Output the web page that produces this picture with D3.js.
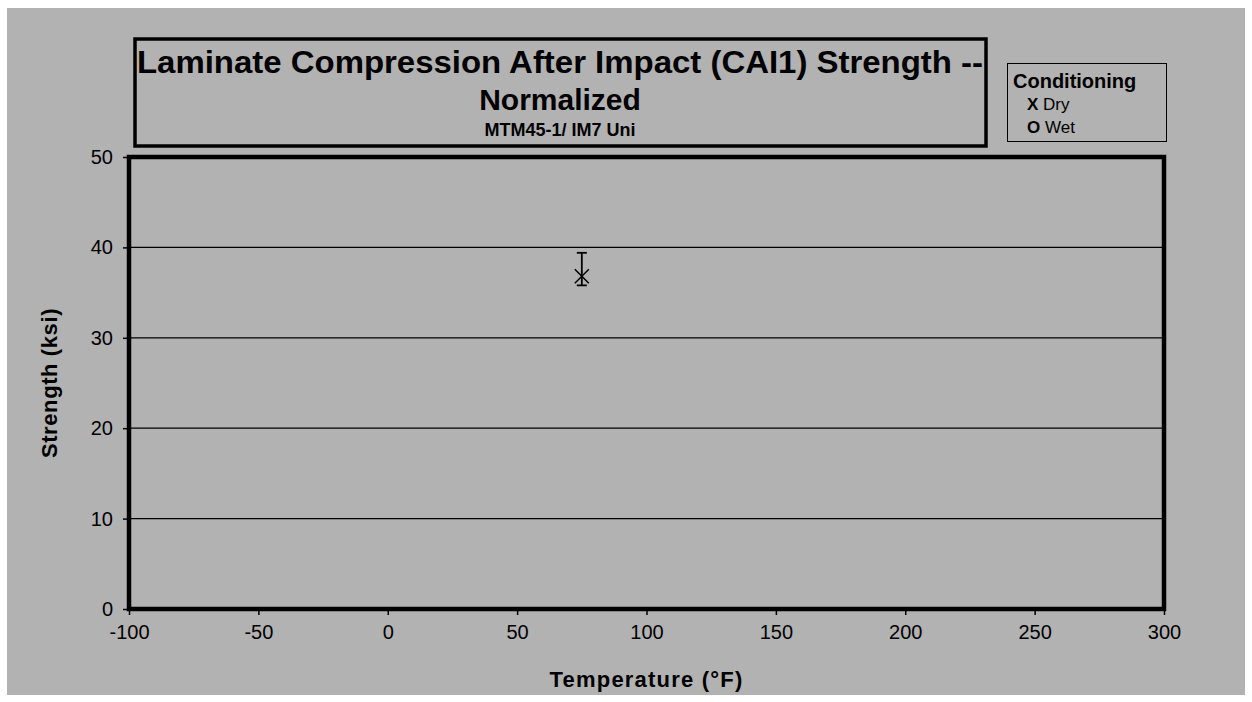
<!DOCTYPE html>
<html>
<head>
<meta charset="utf-8">
<script src="https://cdn.jsdelivr.net/npm/d3@7"></script>
<style>
  html, body { margin: 0; padding: 0; background: #ffffff; }
  svg { display: block; }
  text { font-family: "Liberation Sans", Arial, sans-serif; fill: #000; }
</style>
</head>
<body>
<svg id="chart" width="1252" height="702"></svg>
<script>
// ---- Data ----
const titleLines = ["Laminate Compression After Impact (CAI1) Strength --", "Normalized"];
const subtitle = "MTM45-1/ IM7 Uni";
const xLabel = "Temperature (°F)";
const yLabel = "Strength (ksi)";
const xTicks = [-100, -50, 0, 50, 100, 150, 200, 250, 300];
const yTicks = [0, 10, 20, 30, 40, 50];
const legendTitle = "Conditioning";
const legendSymbols = ["X", "O"];
const legendNames = ["Dry", "Wet"];
// Dry series: temperature, mean, min, max
const dryTemp = [75];
const dryMean = [36.8];
const dryMin = [35.8];
const dryMax = [39.4];

// ---- Layout ----
const svg = d3.select("#chart");
const plot = { left: 129, right: 1164, top: 157, bottom: 609 };

svg.append("rect").attr("x", 7).attr("y", 8).attr("width", 1238).attr("height", 687)
  .attr("fill", "#b2b2b2");

const x = d3.scaleLinear().domain([-100, 300]).range([plot.left, plot.right]);
const y = d3.scaleLinear().domain([0, 50]).range([plot.bottom, plot.top]);

// gridlines
svg.append("g").selectAll("line").data(yTicks.filter(d => d > 0 && d < 50)).join("line")
  .attr("x1", plot.left).attr("x2", plot.right)
  .attr("y1", d => y(d)).attr("y2", d => y(d))
  .attr("stroke", "#000").attr("stroke-width", 1.2);

// axes
const fmt = d => String(d);
const yAxis = d3.axisLeft(y).tickValues(yTicks).tickFormat(fmt).tickSize(6).tickPadding(10);
const gy = svg.append("g").attr("transform", `translate(${plot.left},0)`).call(yAxis);
gy.select(".domain").remove();
gy.selectAll("line").attr("stroke", "#000").attr("stroke-width", 1.5);
gy.selectAll("text").attr("font-size", 20).attr("font-family", "Liberation Sans, Arial, sans-serif").attr("fill", "#000");

const xAxis = d3.axisBottom(x).tickValues(xTicks).tickFormat(fmt).tickSize(6).tickPadding(10);
const gx = svg.append("g").attr("transform", `translate(0,${plot.bottom})`).call(xAxis);
gx.select(".domain").remove();
gx.selectAll("line").attr("stroke", "#000").attr("stroke-width", 1.5);
gx.selectAll("text").attr("font-size", 20).attr("font-family", "Liberation Sans, Arial, sans-serif").attr("fill", "#000");

// plot border
svg.append("rect").attr("x", plot.left).attr("y", plot.top)
  .attr("width", plot.right - plot.left).attr("height", plot.bottom - plot.top)
  .attr("fill", "none").attr("stroke", "#000").attr("stroke-width", 4.5);

// error bars + markers
const eb = svg.append("g");
dryTemp.forEach((t, i) => {
  const cx = x(t);
  eb.append("line").attr("x1", cx).attr("x2", cx).attr("y1", y(dryMax[i])).attr("y2", y(dryMin[i]))
    .attr("stroke", "#000").attr("stroke-width", 1.8);
  [dryMax[i], dryMin[i]].forEach(v => {
    eb.append("line").attr("x1", cx - 5).attr("x2", cx + 5).attr("y1", y(v)).attr("y2", y(v))
      .attr("stroke", "#000").attr("stroke-width", 1.8);
  });
  const s = 7;
  const cy = y(dryMean[i]);
  eb.append("path").attr("d", `M${cx - s},${cy - s}L${cx + s},${cy + s}M${cx - s},${cy + s}L${cx + s},${cy - s}`)
    .attr("stroke", "#000").attr("stroke-width", 1.5).attr("fill", "none");
});

// axis titles
svg.append("text").attr("x", (plot.left + plot.right) / 2).attr("y", 687)
  .attr("text-anchor", "middle").attr("font-weight", "bold").attr("font-size", 22)
  .attr("letter-spacing", 1.2)
  .text(xLabel);
svg.append("text").attr("transform", `translate(57,${(plot.top + plot.bottom) / 2}) rotate(-90)`)
  .attr("text-anchor", "middle").attr("font-weight", "bold").attr("font-size", 22)
  .attr("letter-spacing", 0.6)
  .text(yLabel);

// title box
svg.append("rect").attr("x", 135).attr("y", 39).attr("width", 851).attr("height", 107)
  .attr("fill", "none").attr("stroke", "#000").attr("stroke-width", 3.5);
const tcx = 560;
svg.append("text").attr("x", tcx).attr("y", 73).attr("text-anchor", "middle")
  .attr("font-weight", "bold").attr("font-size", 31)
  .attr("textLength", 846).attr("lengthAdjust", "spacingAndGlyphs")
  .text(titleLines[0]);
svg.append("text").attr("x", tcx).attr("y", 110).attr("text-anchor", "middle")
  .attr("font-weight", "bold").attr("font-size", 30)
  .text(titleLines[1]);
svg.append("text").attr("x", tcx).attr("y", 136).attr("text-anchor", "middle")
  .attr("font-weight", "bold").attr("font-size", 18)
  .text(subtitle);

// legend
svg.append("rect").attr("x", 1007.5).attr("y", 63.5).attr("width", 159).attr("height", 78)
  .attr("fill", "none").attr("stroke", "#000").attr("stroke-width", 1);
svg.append("text").attr("x", 1013).attr("y", 88).attr("font-weight", "bold").attr("font-size", 20)
  .text(legendTitle);
legendSymbols.forEach((s, i) => {
  const t = svg.append("text").attr("x", 1027).attr("y", 110 + i * 23).attr("font-size", 17);
  t.append("tspan").attr("font-weight", "bold").text(s);
  t.append("tspan").text(" " + legendNames[i]);
});
</script>
</body>
</html>
